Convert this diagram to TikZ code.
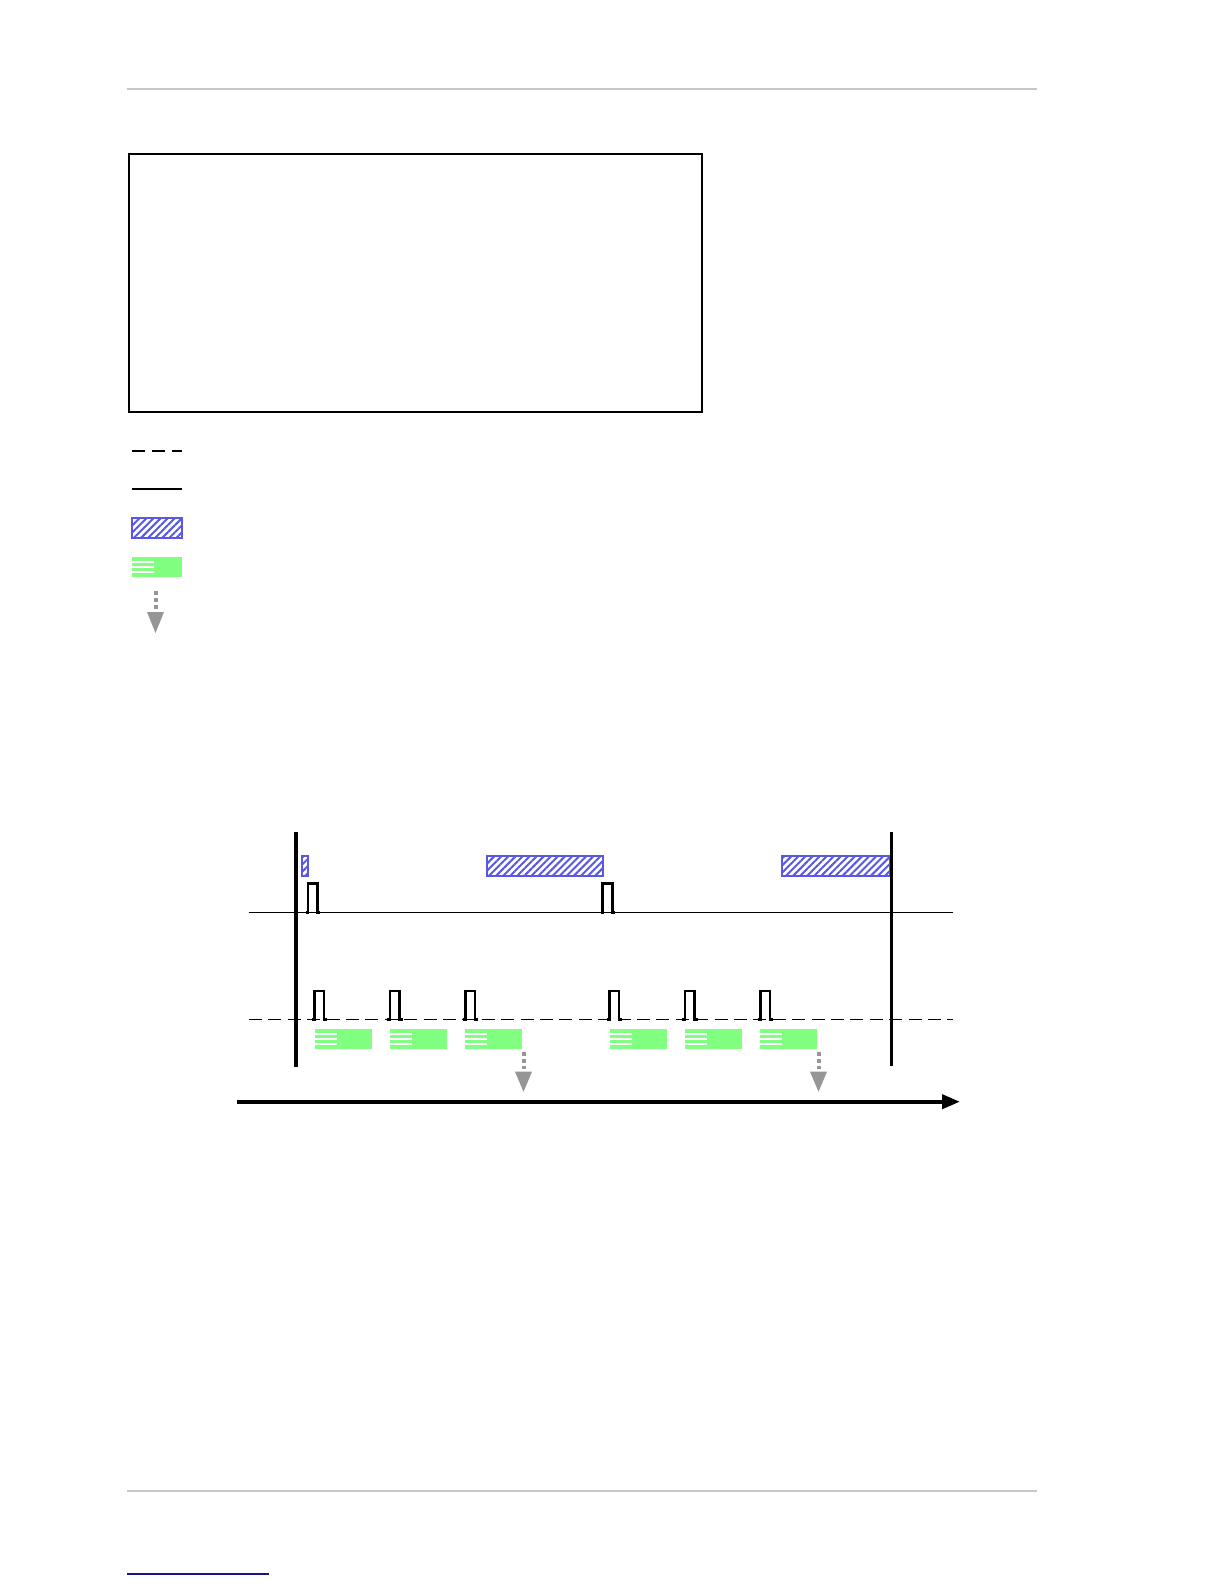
\documentclass[tikz,border=0pt]{standalone}
\usetikzlibrary{patterns.meta,arrows.meta}
\definecolor{hblue}{RGB}{88,88,228}
\definecolor{lgreen}{RGB}{128,255,128}
\definecolor{agray}{RGB}{150,150,150}
\definecolor{rulegray}{RGB}{200,200,200}
\definecolor{navyline}{RGB}{20,20,140}
\tikzset{
  hatchbox/.style={draw=hblue,line width=0.9pt,
    pattern={Lines[angle=45,distance=2.5pt,line width=1pt]},pattern color=hblue},
  greenbox/.style={fill=lgreen,draw=none},
  stripe/.style={draw=white,line width=1.1pt},
  dashsig/.style={line width=0.6pt,dash pattern=on 6.5pt off 3.2pt},
  solidsig/.style={line width=0.75pt},
  pulse/.style={line width=1.3pt},
  marker/.style={line width=1.6pt},
  grayshaft/.style={draw=agray,line width=2pt,dash pattern=on 2pt off 1.6pt},
  grayhead/.style={fill=agray,draw=none},
  timeaxis/.style={line width=2pt,-{Triangle[length=9pt,width=7pt]}},
  rule/.style={draw=rulegray,line width=0.6pt},
  frame/.style={draw=black,line width=0.75pt}
}
\newcommand\grnbox[3]{% x, ytop, ybot
  \path[greenbox] (#1,#2) rectangle (#1+57,#3);
  \foreach \k in {1,2,3}{\draw[stripe] (#1,{#2+\k*(#3-#2)/4}) -- (#1+22,{#2+\k*(#3-#2)/4});}
}
\newcommand\grayarr[4]{% x, shaft top, head top, head bottom
  \draw[grayshaft] (#1,#2) -- (#1,#3-3);
  \path[grayhead] (#1-8.5,#3) -- (#1+8.5,#3) -- (#1,#4) -- cycle;
}
\begin{document}
\begin{tikzpicture}[x=0.5pt,y=-0.5pt]
\useasboundingbox (0,0) rectangle (1224,1584);
\fill[white] (0,0) rectangle (1224,1584);
% page rules
\coordinate (rtL) at (127,89); \coordinate (rtR) at (1037,89);
\coordinate (rbL) at (127,1491); \coordinate (rbR) at (1037,1491);
\coordinate (ulL) at (127,1574); \coordinate (ulR) at (269,1574);
\draw[rule] (rtL) -- (rtR);
\draw[rule] (rbL) -- (rbR);
\draw[navyline,line width=0.7pt] (ulL) -- (ulR);
% empty frame
\node[frame,minimum width=573*0.5pt,minimum height=258*0.5pt,inner sep=0pt,anchor=north west] (box) at (128,153) {};
% legend
\coordinate (l1a) at (132,451); \coordinate (l1b) at (182,451);
\draw[dashsig,dash pattern=on 6.5pt off 3.5pt] (l1a) -- (l1b);
\coordinate (l2a) at (132,489); \coordinate (l2b) at (182,489);
\draw[line width=0.9pt] (l2a) -- (l2b);
\draw[hatchbox] (132,518) rectangle (182,538);
\path[greenbox] (132,557) rectangle (182,577);
\foreach \k in {1,2,3}{\draw[stripe] (132,557+\k*5) -- (154,557+\k*5);}
\grayarr{155.5}{591}{612}{633}
% timing diagram
\coordinate (vL1) at (296,832); \coordinate (vL2) at (296,1067);
\coordinate (vR1) at (891.5,832); \coordinate (vR2) at (891.5,1066);
% upper signal
\coordinate (s1a) at (249,912.3); \coordinate (s1b) at (953,912.3);
\draw[solidsig] (s1a) -- (s1b);
\foreach \x in {308,602.7}{
  \draw[pulse] (\x-2,912.3) -- (\x,912.3) -- (\x,883.3) -- (\x+9.5,883.3) -- (\x+9.5,912.3) -- (\x+12,912.3);
}
\draw[hatchbox] (301.7,856) rectangle (308.3,875.7);
\draw[hatchbox] (487.3,856) rectangle (603.3,875.7);
\draw[hatchbox] (782.3,856) rectangle (890,875.7);
% lower signal
\coordinate (s2a) at (249,1019.3); \coordinate (s2b) at (953,1019.3);
\draw[dashsig] (s2a) -- (s2b);
\foreach \x in {314.5,390,465.5,609.5,685,760.5}{
  \draw[pulse] (\x-3,1019.3) -- (\x,1019.3) -- (\x,991) -- (\x+9.5,991) -- (\x+9.5,1019.3) -- (\x+12.5,1019.3);
}
\foreach \x in {315,390,465,610,685,760}{\grnbox{\x}{1029.3}{1049}}
\grayarr{523.5}{1052}{1071.7}{1091.7}
\grayarr{818.5}{1052}{1071.7}{1091.7}
% frame markers
\draw[marker] (vL1) -- (vL2);
\draw[marker] (vR1) -- (vR2);
% time axis
\coordinate (axL) at (236.7,1101.7); \coordinate (axR) at (960,1101.7);
\draw[timeaxis] (axL) -- (axR);
\end{tikzpicture}
\end{document}
